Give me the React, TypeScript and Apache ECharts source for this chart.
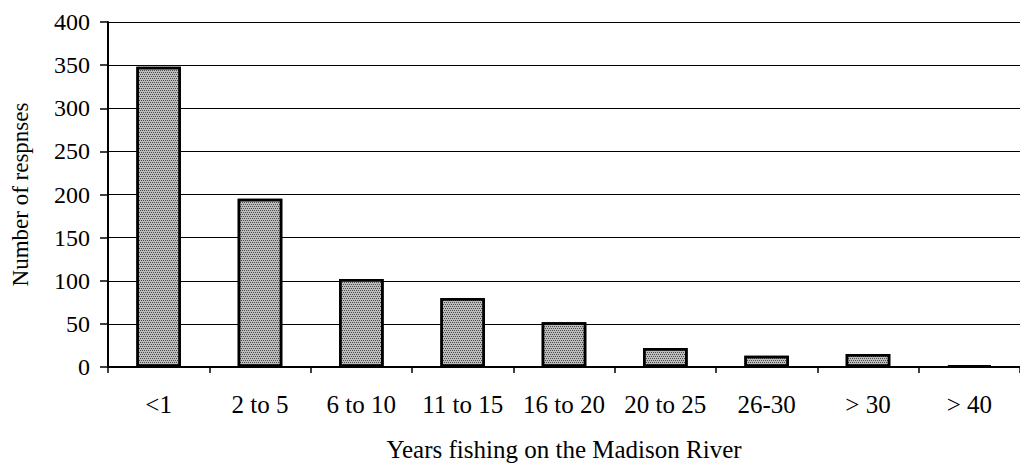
import React, { useEffect, useRef } from "react";
import * as echarts from "echarts";

const categories = ["<1", "2 to 5", "6 to 10", "11 to 15", "16 to 20", "20 to 25", "26-30", "> 30", "> 40"];
const responses = [348, 195, 102, 80, 52, 22, 13, 15, 2];
const yTicks = [0, 50, 100, 150, 200, 250, 300, 350, 400];

const FONT = "'Liberation Serif', 'Times New Roman', serif";

export default function App() {
  const ref = useRef<HTMLDivElement>(null);
  useEffect(() => {
    document.body.style.margin = "0";
    document.body.style.overflow = "hidden";
    const chart = echarts.init(ref.current!, null, { renderer: "svg" });
    chart.setOption({
      animation: false,
      backgroundColor: "#ffffff",
      grid: { left: 108, right: -8, top: 22, bottom: 97, containLabel: false },
      xAxis: {
        type: "category",
        data: categories,
        name: "Years fishing on the Madison River",
        nameLocation: "middle",
        nameGap: 70,
        nameTextStyle: { fontFamily: FONT, fontSize: 25, color: "#000" },
        axisLine: { lineStyle: { color: "#000", width: 2 } },
        axisTick: { show: true, alignWithLabel: false, length: 6, lineStyle: { color: "#000", width: 1.5 } },
        axisLabel: { fontFamily: FONT, fontSize: 25, color: "#000", margin: 25, interval: 0 },
      },
      yAxis: {
        type: "value",
        min: yTicks[0],
        max: yTicks[yTicks.length - 1],
        interval: 50,
        name: "Number of respnses",
        nameLocation: "middle",
        nameRotate: 90,
        nameGap: 76,
        nameTextStyle: { fontFamily: FONT, fontSize: 23, color: "#000" },
        axisLine: { show: true, lineStyle: { color: "#000", width: 2 } },
        axisTick: { show: true, length: 8, lineStyle: { color: "#000", width: 1.5 } },
        axisLabel: { fontFamily: FONT, fontSize: 24, color: "#000", margin: 18 },
        splitLine: { show: true, lineStyle: { color: "#000", width: 1.2 } },
      },
      series: [
        {
          type: "bar",
          data: responses,
          barWidth: "44%",
          itemStyle: {
            color: "#bcbcbc",
            borderColor: "#000",
            borderWidth: 2.5,
            decal: {
              symbol: "rect",
              symbolSize: 1,
              dashArrayX: [[1, 1], [0, 1, 1, 0]],
              dashArrayY: [1, 1],
              color: "rgba(0,0,0,0.6)",
              rotation: 0,
            },
          },
        },
      ],
    });
    return () => chart.dispose();
  }, []);
  return <div ref={ref} style={{ width: 1020, height: 467 }} />;
}
